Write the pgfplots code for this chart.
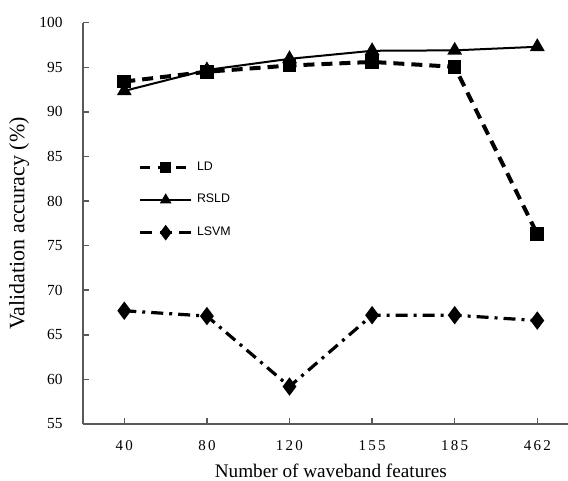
\documentclass[border=0pt]{standalone}
\usepackage{pgfplots}
\pgfplotsset{compat=1.18}
\usepackage{fontspec}
\setmainfont{Liberation Serif}
\newfontfamily\legfont{Liberation Sans}
\newfontfamily\tickspaced[LetterSpace=15]{Liberation Serif}
\definecolor{axisgray}{RGB}{89,89,89}

\begin{document}
\begin{tikzpicture}
\begin{axis}[
  name=ax, at={(0,0)}, anchor=south west,
  width=247.8pt, height=200.65pt, scale only axis,
  xmin=-0.5, xmax=5.5, ymin=55, ymax=100,
  axis x line*=bottom, axis y line*=left,
  axis line style={draw=axisgray, line width=0.75pt, -},
  tick style={draw=axisgray, line width=0.75pt},
  tick align=inside, major tick length=3pt,
  xtick={0,1,2,3,4,5},
  xticklabels={40,80,120,155,185,462},
  ytick={55,60,...,100},
  /pgf/number format/assume math mode=true,
  xticklabel style={font=\fontsize{7.5}{9}\tickspaced, anchor=center, yshift=-11pt},
  yticklabel style={font=\fontsize{7.7}{9}\selectfont, anchor=east, inner sep=0pt, xshift=-10pt},
  xlabel={Number of waveband features},
  ylabel={Validation accuracy (\%)},
  every axis x label/.style={at={(axis description cs:0.5,0)}, anchor=center, yshift=-23.5pt, font=\fontsize{9.6}{11}\selectfont},
  every axis y label/.style={at={(axis description cs:-0.129,0.5)}, anchor=center, rotate=90, font=\fontsize{11}{13}\selectfont},
  legend image code/.code={\draw[mark repeat=2,mark phase=2,#1] plot coordinates {(0pt,0pt) (12.75pt,0pt) (25.5pt,0pt)};},
  legend style={draw=none, fill=none, at={(axis description cs:0.111,0.558)}, anchor=west,
    font=\fontsize{6.2}{7}\legfont, inner sep=0pt, row sep=10.5pt, column sep=2pt,
    nodes={inner sep=0pt}},
  legend cell align=left,
]
  % LD
  \addplot[black, line width=2pt, dash pattern=on 5.5pt off 3.5pt,
    mark=square*, mark size=2.4pt, mark options={solid}, forget plot] coordinates {
    (0,93.4) (1,94.5) (2,95.2) (3,95.6) (4,95.05) (5,76.3)
  };
  % RSLD
  \addplot[black, line width=1pt,
    mark=triangle*, mark size=3.3pt, mark options={solid}, forget plot] coordinates {
    (0,92.35) (1,94.7) (2,95.95) (3,96.85) (4,96.9) (5,97.3)
  };
  % LSVM
  \addplot[black, line width=1.6pt, dash pattern=on 6pt off 3pt on 1.5pt off 3pt,
    mark=diamond*, mark size=3.3pt, mark options={solid}, forget plot] coordinates {
    (0,67.7) (1,67.1) (2,59.2) (3,67.2) (4,67.2) (5,66.6)
  };
  \addlegendimage{black, line width=1.8pt, dash pattern=on 5pt off 4pt, mark=square*, mark size=1.9pt, mark options={solid}}
  \addlegendentry{LD}
  \addlegendimage{black, line width=0.9pt, mark=triangle*, mark size=2.5pt, mark options={solid}}
  \addlegendentry{RSLD}
  \addlegendimage{black, line width=1.6pt, dash pattern=on 6pt off 3.75pt, mark=diamond*, mark size=2.6pt, mark options={solid}}
  \addlegendentry{LSVM}
\end{axis}
\pgfresetboundingbox
\path (-41.5pt,-28.5pt) rectangle (242.5pt,212pt);
\end{tikzpicture}
\end{document}
